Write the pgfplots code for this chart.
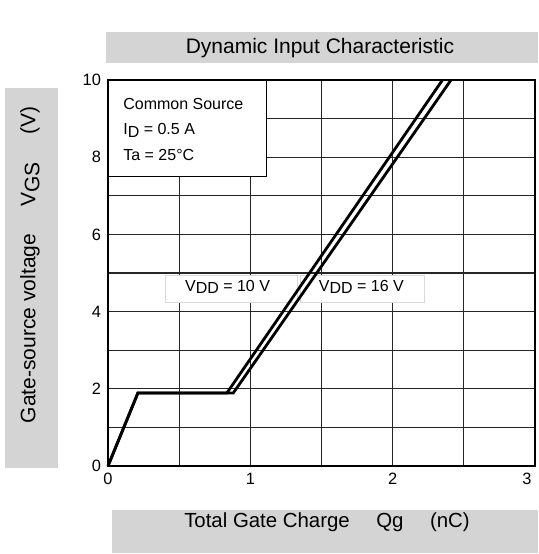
\documentclass[border=0pt]{standalone}
\usepackage{fontspec}
\setmainfont{Liberation Sans}
\usepackage{pgfplots}
\pgfplotsset{compat=1.18}
\newcommand{\sub}[1]{\raisebox{-0.35ex}{#1}}
\begin{document}
\begin{tikzpicture}[x=0.5pt,y=0.5pt]
\path[use as bounding box] (-108,-88) rectangle (430,466);
% label boxes
\fill[black!17] (-2,403) rectangle (430,434);
\node[font=\fontsize{10.5}{11}\selectfont] at (212,418) {Dynamic Input Characteristic};
\fill[black!17] (4,-87) rectangle (430,-44);
\node[font=\fontsize{10.2}{11}\selectfont] at (219,-56) {Total Gate Charge\hspace{1.3em}Qg\hspace{1.3em}(nC)};
\fill[black!17] (-103,-2) rectangle (-50,378);
\node[font=\fontsize{10.5}{11}\selectfont,rotate=90] at (-78,201) {Gate-source voltage\hspace{1.3em}V\sub{GS}\hspace{1.3em}(V)};
\begin{axis}[name=ax,at={(0,0)},anchor=south west,
  scale only axis, width=213.5pt, height=193pt,
  xmin=0, xmax=3, ymin=0, ymax=10,
  xtick={0,1,2}, ytick={0,2,4,6,8,10},
  extra x ticks={3},
  extra x tick style={grid=none, xticklabel style={xshift=-4pt}},
  minor xtick={0.5,1.5,2.5}, minor ytick={1,3,5,7,9},
  grid=both,
  major grid style={black!85, line width=0.6pt},
  minor grid style={black!85, line width=0.6pt},
  major tick length=0pt, minor tick length=0pt,
  axis line style={line width=1.3pt},
  tick label style={font=\fontsize{8.2}{9}\selectfont},
  /pgf/number format/assume math mode=true,
  clip=false]
\draw[fill=white, line width=0.8pt] (axis cs:0,7.5) rectangle (axis cs:1.115,10);
\node[anchor=west,inner sep=0pt,font=\fontsize{8}{9}\selectfont] at (axis cs:0.105,9.38) {Common Source};
\node[anchor=west,inner sep=0pt,font=\fontsize{8}{9}\selectfont] at (axis cs:0.105,8.70) {I\sub{D} = 0.5 A};
\node[anchor=west,inner sep=0pt,font=\fontsize{8}{9}\selectfont] at (axis cs:0.105,8.06) {Ta = 25°C};
\draw[fill=white, draw=black!15, line width=0.4pt] (axis cs:0.40,4.25) rectangle (axis cs:1.33,4.95);
\draw[fill=white, draw=black!15, line width=0.4pt] (axis cs:1.35,4.25) rectangle (axis cs:2.22,4.95);
\node[font=\fontsize{8}{9}\selectfont] at (axis cs:0.84,4.64) {V\sub{DD} = 10 V};
\node[font=\fontsize{8}{9}\selectfont] at (axis cs:1.78,4.64) {V\sub{DD} = 16 V};
\addplot[black, line width=1.4pt, line join=miter] coordinates {(0,0) (0.21,1.89) (0.835,1.89) (2.35,10)};
\addplot[black, line width=1.4pt, line join=miter] coordinates {(0,0) (0.21,1.89) (0.88,1.89) (2.41,10)};
\end{axis}
\draw[line width=1.3pt] (ax.south west) rectangle (ax.north east);
\end{tikzpicture}
\end{document}
